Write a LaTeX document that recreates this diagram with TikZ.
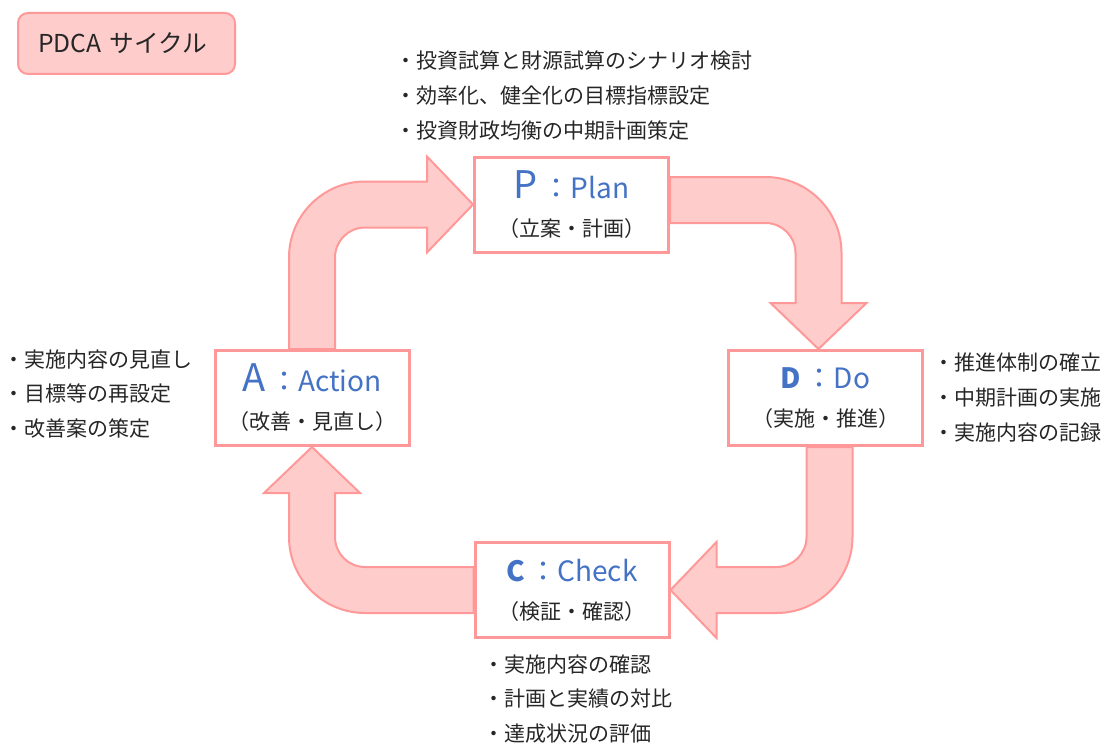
\documentclass[tikz,border=0pt]{standalone}
\usepackage{fontspec}
\setmainfont{Noto Sans CJK JP}
\usepackage{tikz}
\usetikzlibrary{calc}
\usetikzlibrary{backgrounds}
\definecolor{pdca-line}{RGB}{255,153,153}
\definecolor{pdca-fill}{RGB}{255,204,204}
\definecolor{pdca-blue}{RGB}{68,114,196}
\definecolor{pdca-text}{RGB}{38,38,38}
\newcommand{\stagekey}[1]{{\fontsize{28.5pt}{28.5pt}\selectfont #1}}
\newcommand{\stagetag}[1]{{\fontsize{21pt}{21pt}\selectfont #1}}

\begin{document}
\begin{tikzpicture}[x=0.75pt, y=0.75pt]
    \tikzset{ stage/.style ={draw=pdca-line, line width=2.25pt, fill=white, minimum width=145.5pt, minimum height=71.25pt, align=center, inner sep=0pt, text=pdca-text, font=\fontsize{15.75pt}{28.5pt}\selectfont} }
    \tikzset{ blk/.style ={draw=pdca-line, line width=1.5pt, fill=pdca-fill, line join=miter} }
    \tikzset{ note/.style ={anchor=west, align=left, inner sep=0pt, text=pdca-text, font=\fontsize{15.75pt}{25.9pt}\selectfont} }
    \tikzset{ ttl/.style ={draw=pdca-line, line width=1.5pt, fill=pdca-fill, rounded corners=7.5pt, inner xsep=15pt, inner ysep=0pt, text width=132.75pt, align=left, minimum height=45.75pt, text=pdca-text, font=\fontsize{18.5pt}{18.5pt}\selectfont} }

    \useasboundingbox (0,0) rectangle (1105,-742);

    \node[ttl] (title) at (126.5,-43.5) {PDCA サイクル};

    \node[stage] (plan)  at (571.5,-204.5) {\textcolor{pdca-blue}{\stagekey{P}\stagetag{\,：Plan}}\\（立案・計画）};
    \node[stage] (do)    at (825.5,-398)   {\textcolor{pdca-blue}{\stagetag{\bfseries D}\stagetag{\,：Do}}\\（実施・推進）};
    \node[stage] (check) at (572,-590)     {\textcolor{pdca-blue}{\stagetag{\bfseries C}\stagetag{\,：Check}}\\（検証・確認）};
    \node[stage] (act)   at (312,-398)     {\textcolor{pdca-blue}{\stagekey{A}\stagetag{\,：Action}}\\（改善・見直し）};

    \node[note] (plannote)  at (395,-95.5) {・投資試算と財源試算のシナリオ検討\\・効率化、健全化の目標指標設定\\・投資財政均衡の中期計画策定};
    \node[note] (donote)    at (933,-397.5) {・推進体制の確立\\・中期計画の実施\\・実施内容の記録};
    \node[note] (checknote) at (483,-699) {・実施内容の確認\\・計画と実績の対比\\・達成状況の評価};
    \node[note] (actnote)   at (3,-394) {・実施内容の見直し\\・目標等の再設定\\・改善案の策定};

    \begin{scope}[on background layer]
    % A -> P
    \coordinate (ap-s) at (act.north);
    \coordinate (ap-t) at (plan.west);
    \coordinate (ap-k) at (ap-s |- ap-t);
    \coordinate (ap-c) at ($(ap-k)+(53,-53)$);
    \draw[blk] ($(ap-s)+(-23,0)$) -- ($(ap-c)+(-76,0)$) arc[start angle=180, end angle=90, radius=76]
        -- ($(ap-t)+(-46,23)$) -- ($(ap-t)+(-46,48)$) -- (ap-t) -- ($(ap-t)+(-46,-48)$) -- ($(ap-t)+(-46,-23)$)
        -- ($(ap-c)+(0,30)$) arc[start angle=90, end angle=180, radius=30] -- ($(ap-s)+(23,0)$) -- cycle;
    % P -> D
    \coordinate (pd-s) at ($(plan.east)+(0,4.5)$);
    \coordinate (pd-t) at ($(do.north)+(-7,0)$);
    \coordinate (pd-k) at (pd-s -| pd-t);
    \coordinate (pd-c) at ($(pd-k)+(-53,-53)$);
    \draw[blk] ($(pd-s)+(0,23)$) -- ($(pd-c)+(0,76)$) arc[start angle=90, end angle=0, radius=76]
        -- ($(pd-t)+(23,46)$) -- ($(pd-t)+(48,46)$) -- (pd-t) -- ($(pd-t)+(-48,46)$) -- ($(pd-t)+(-23,46)$)
        -- ($(pd-c)+(30,0)$) arc[start angle=0, end angle=90, radius=30] -- ($(pd-s)+(0,-23)$) -- cycle;
    % D -> C
    \coordinate (dc-s) at ($(do.south)+(4,0)$);
    \coordinate (dc-t) at (check.east);
    \coordinate (dc-k) at (dc-s |- dc-t);
    \coordinate (dc-c) at ($(dc-k)+(-53,53)$);
    \draw[blk] ($(dc-s)+(23,0)$) -- ($(dc-c)+(76,0)$) arc[start angle=0, end angle=-90, radius=76]
        -- ($(dc-t)+(46,-23)$) -- ($(dc-t)+(46,-48)$) -- (dc-t) -- ($(dc-t)+(46,48)$) -- ($(dc-t)+(46,23)$)
        -- ($(dc-c)+(0,-30)$) arc[start angle=-90, end angle=0, radius=30] -- ($(dc-s)+(-23,0)$) -- cycle;
    % C -> A
    \coordinate (ca-s) at (check.west);
    \coordinate (ca-t) at (act.south);
    \coordinate (ca-k) at (ca-s -| ca-t);
    \coordinate (ca-c) at ($(ca-k)+(53,53)$);
    \draw[blk] ($(ca-s)+(0,-23)$) -- ($(ca-c)+(0,-76)$) arc[start angle=-90, end angle=-180, radius=76]
        -- ($(ca-t)+(-23,-46)$) -- ($(ca-t)+(-48,-46)$) -- (ca-t) -- ($(ca-t)+(48,-46)$) -- ($(ca-t)+(23,-46)$)
        -- ($(ca-c)+(-30,0)$) arc[start angle=180, end angle=270, radius=30] -- ($(ca-s)+(0,23)$) -- cycle;
    \end{scope}

\end{tikzpicture}
\end{document}
